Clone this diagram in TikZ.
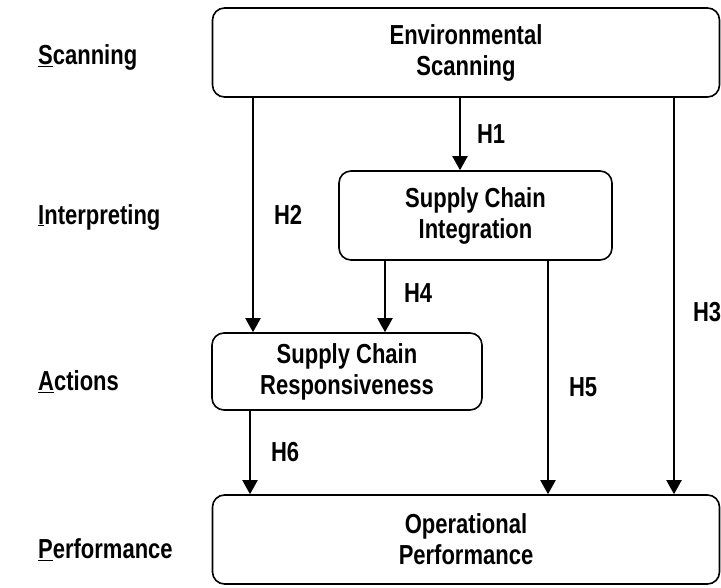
\documentclass[tikz,border=0pt]{standalone}
\usepackage{fontspec}
\setmainfont{Liberation Sans}
\newfontfamily\narrowsans{Liberation Sans}[FakeStretch=0.8]
\usetikzlibrary{arrows.meta}
\tikzstyle{construct} = [rectangle, rounded corners=12pt, draw=black, line width=1.6pt, align=center, font=\narrowsans\bfseries\fontsize{27.5}{31}\selectfont, inner sep=0pt]
\tikzstyle{arrow} = [line width=2pt,-{Triangle[width=15pt,length=14pt]}]
\tikzstyle{stage} = [anchor=west, font=\narrowsans\bfseries\fontsize{27.5}{30}\selectfont, inner sep=0pt]
\tikzstyle{hyp} = [anchor=west, font=\narrowsans\bfseries\fontsize{27.5}{30}\selectfont, inner sep=0pt]

\begin{document}
\begin{tikzpicture}[x=1pt,y=-1pt]
	\useasboundingbox (0,0) rectangle (721,587);
	% construct boxes
	\node (env) at (466, 52.5) [construct, minimum width=507pt, minimum height=89pt] {Environmental\\Scanning};
	\node (sci) at (475.5, 215.5) [construct, minimum width=273pt, minimum height=89pt] {Supply Chain\\Integration};
	\node (scr) at (347, 371.5) [construct, minimum width=270pt, minimum height=77pt] {Supply Chain\\Responsiveness};
	\node (perf) at (466, 539.5) [construct, minimum width=507pt, minimum height=89pt] {Operational\\Performance};
	% stages on the left
	\node (lscan) at (38, 57) [stage] {\underline{S}canning};
	\node (linterp) at (38, 217) [stage] {\underline{I}nterpreting};
	\node (lact) at (38, 382) [stage] {\underline{A}ctions};
	\node (lperf) at (38, 550) [stage] {\underline{P}erformance};
	% x positions of the paths
	\coordinate (xH1) at (460, 0);
	\coordinate (xH2) at (253, 0);
	\coordinate (xH3) at (674, 0);
	\coordinate (xH4) at (385, 0);
	\coordinate (xH5) at (548, 0);
	\coordinate (xH6) at (250, 0);
	% hypotheses
	\draw[arrow] (env.south -| xH1) -- (sci.north -| xH1) node[hyp, pos=0.5, xshift=16pt] {H1};
	\draw[arrow] (env.south -| xH2) -- (scr.north -| xH2) node[hyp, pos=0.5, xshift=20pt] {H2};
	\draw[arrow] (env.south -| xH3) -- (perf.north -| xH3) node[hyp, pos=0.54, xshift=18pt] {H3};
	\draw[arrow] (sci.south -| xH4) -- (scr.north -| xH4) node[hyp, pos=0.45, xshift=18pt] {H4};
	\draw[arrow] (sci.south -| xH5) -- (perf.north -| xH5) node[hyp, pos=0.54, xshift=20pt] {H5};
	\draw[arrow] (scr.south -| xH6) -- (perf.north -| xH6) node[hyp, pos=0.5, xshift=20pt] {H6};
\end{tikzpicture}
\end{document}
